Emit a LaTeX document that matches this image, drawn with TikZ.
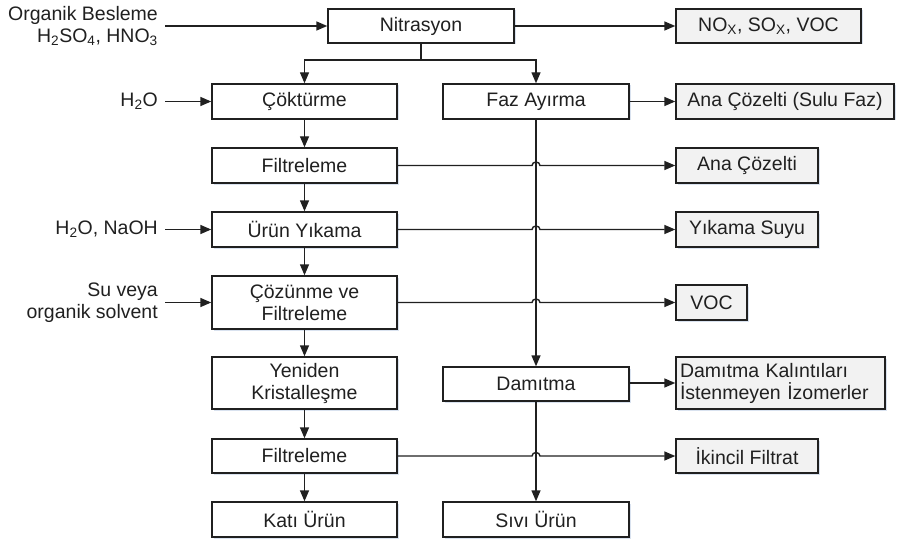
\documentclass[tikz,border=0pt]{standalone}
\usepackage{fontspec}
\setmainfont{Liberation Sans}
\usetikzlibrary{arrows.meta,shadows}
\definecolor{ink}{HTML}{202020}
\definecolor{outfill}{HTML}{F2F2F2}
\definecolor{shad}{HTML}{C9D6E8}
\begin{document}
\begin{tikzpicture}[x=1pt,y=-1pt,
  font=\fontsize{19.5pt}{22pt}\selectfont, text=ink,
  box/.style={draw=ink, line width=1.4pt, fill=white, inner sep=2pt, align=center,
     drop shadow={shadow xshift=1.5pt, shadow yshift=-1.5pt, fill=shad, opacity=0.7}},
  pbox/.style={box, minimum width=185pt},
  obox/.style={box, fill=outfill},
  lbl/.style={inner sep=0pt, align=right, anchor=east},
  arr/.style={draw=ink, line width=1.4pt, -{Triangle[length=11pt,width=9pt]}},
  ln/.style={draw=ink, line width=1.4pt}]
\useasboundingbox (0,0) rectangle (901,540);

% process boxes (left column)
\node[pbox, minimum height=34pt, minimum width=186pt] (nit) at (421,26) {Nitrasyon};
\node[pbox, minimum height=35pt] (cok) at (304.5,101.5) {Çöktürme};
\node[pbox, minimum height=35pt] (f1) at (304.5,165.5) {Filtreleme};
\node[pbox, minimum height=35pt] (uy) at (304.5,229.5) {Ürün Yıkama};
\node[pbox, minimum height=53pt] (coz) at (304.5,302.5) {Çözünme ve\\Filtreleme};
\node[pbox, minimum height=52pt] (yk) at (304.5,383) {Yeniden\\Kristalleşme};
\node[pbox, minimum height=34pt] (f2) at (304.5,456) {Filtreleme};
\node[pbox, minimum height=35pt] (kat) at (304.5,519.5) {Katı Ürün};

% process boxes (middle column)
\node[pbox, minimum height=35pt, minimum width=186pt] (faz) at (536,101.5) {Faz Ayırma};
\node[pbox, minimum height=34pt, minimum width=186pt] (dam) at (536,384) {Damıtma};
\node[pbox, minimum height=35pt, minimum width=186pt] (siv) at (536,519.5) {Sıvı Ürün};

% output boxes
\node[obox, minimum width=185pt, minimum height=34pt] (nox) at (768.5,26) {NO\textsubscript{X}, SO\textsubscript{X}, VOC};
\node[obox, minimum width=218pt, minimum height=35pt] (anas) at (785,101.5) {Ana Çözelti (Sulu Faz)};
\node[obox, minimum width=142pt, minimum height=35pt] (ana) at (747,165.5) {Ana Çözelti};
\node[obox, minimum width=142pt, minimum height=35pt] (ys) at (747,229.5) {Yıkama Suyu};
\node[obox, minimum width=71pt, minimum height=35pt] (voc) at (711.5,302.5) {VOC};
\node[obox, minimum width=209pt, minimum height=52pt, align=left, text width=201pt] (dk) at (780.5,383) {Damıtma Kalıntıları\\İstenmeyen İzomerler};
\node[obox, minimum width=142pt, minimum height=34pt] (ik) at (747,456) {İkincil Filtrat};

% input labels
\node[lbl] (in1) at (158,26) {Organik Besleme\\H\textsubscript{2}SO\textsubscript{4}, HNO\textsubscript{3}};
\node[lbl] (in2) at (158,101.5) {H\textsubscript{2}O};
\node[lbl] (in3) at (158,229.5) {H\textsubscript{2}O, NaOH};
\node[lbl] (in4) at (158,302.5) {Su veya\\organik solvent};

% inputs
\draw[arr] ([xshift=7pt]in1.east) -- (nit.west);
\draw[arr] ([xshift=7pt]in2.east) -- (cok.west);
\draw[arr] ([xshift=7pt]in3.east) -- (uy.west);
\draw[arr] ([xshift=7pt]in4.east) -- (coz.west);

% split after nitration
\coordinate (sp) at (421,60);
\draw[ln] (nit.south) -- (sp);
\draw[arr] (sp) -| (cok.north);
\draw[arr] (sp) -| (faz.north);

% left column flow
\draw[arr] (cok) -- (f1);
\draw[arr] (f1) -- (uy);
\draw[arr] (uy) -- (coz);
\draw[arr] (coz) -- (yk);
\draw[arr] (yk) -- (f2);
\draw[arr] (f2) -- (kat);

% middle column flow
\draw[arr] (faz) -- (dam);
\draw[arr] (dam) -- (siv);

% outputs
\draw[arr] (nit.east) -- (nox.west);
\draw[arr] (faz.east) -- (anas.west);
\draw[arr] (dk.west -| dam.east) -- (dk.west);
\draw[arr] (f1.east) -- ([xshift=-4pt]faz.south |- f1.east) arc[start angle=180,end angle=0,x radius=4pt,y radius=3.5pt] -- (ana.west);
\draw[arr] (uy.east) -- ([xshift=-4pt]faz.south |- uy.east) arc[start angle=180,end angle=0,x radius=4pt,y radius=3.5pt] -- (ys.west);
\draw[arr] (coz.east) -- ([xshift=-4pt]faz.south |- coz.east) arc[start angle=180,end angle=0,x radius=4pt,y radius=3.5pt] -- (voc.west);
\draw[arr] (f2.east) -- ([xshift=-4pt]dam.south |- f2.east) arc[start angle=180,end angle=0,x radius=4pt,y radius=3.5pt] -- (ik.west);
\end{tikzpicture}
\end{document}
